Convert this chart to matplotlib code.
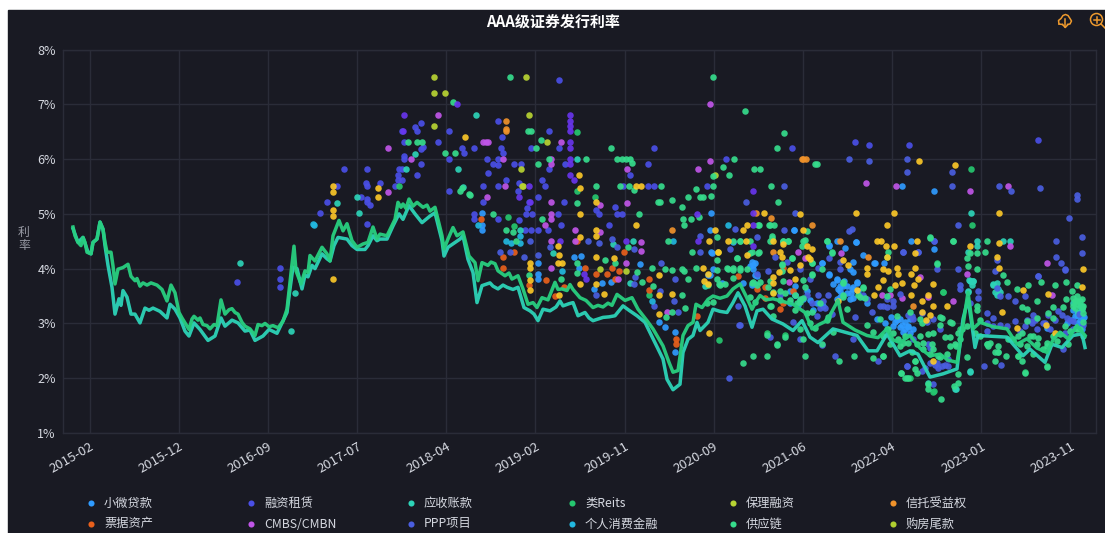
import matplotlib
matplotlib.use("Agg")
import matplotlib.pyplot as plt
from matplotlib.lines import Line2D
from matplotlib.patches import Circle, Rectangle

plt.rcParams['font.family'] = ['Noto Sans CJK SC', 'DejaVu Sans']

W, H = 1105, 533
BG = '#191a23'
GRID = '#2a2c38'

tick_labels = ['2015-02', '2015-12', '2016-09', '2017-07', '2018-04', '2019-02',
               '2019-11', '2020-09', '2021-06', '2022-04', '2023-01', '2023-11']
tick_step = 89.15
tick_first = 16.7

# curves (observation index, rate in %)
green_line = [(0,4.76),(2,4.60),(5,4.48),(8,4.42),(10,4.57),(12,4.48),(14,4.30),(18,4.27),(20,4.48),(24,4.54),
    (27,4.85),(30,4.72),(32,4.48),(34,4.30),(38,4.30),(40,4.05),(42,3.72),(45,3.99),(50,4.02),(55,4.08),(58,3.86),
    (62,3.78),(64,3.82),(67,3.68),(70,3.74),(74,3.70),(78,3.74),(84,3.70),(89,3.62),(94,3.41),(98,3.70),(102,3.56),
    (106,3.20),(109,3.10),(112,3.01),(116,2.89),(119,3.08),(121,3.13),(125,3.06),(127,3.10),(130,2.98),(134,2.96),
    (137,2.90),(141,2.98),(144,2.96),(148,3.43),(150,3.30),(152,3.17),(156,3.25),(159,3.27),(162,3.20),(165,3.17),
    (169,3.02),(172,2.95),(177,2.90),(182,2.78),(185,2.98),(189,2.96),(192,3.00),(196,2.94),(200,2.96),(205,2.92),
    (210,3.04),(214,3.26),(217,3.75),(221,4.41),(223,3.96),(228,3.72),(232,3.96),(235,3.93),(237,4.24),(242,4.14),
    (249,4.39),(254,4.27),(257,4.14),(260,4.60),(266,4.88),(270,4.69),(274,4.82),(279,4.51),(284,4.39),(290,4.45),
    (295,4.48),(300,4.76),(304,4.54),(307,4.63),(314,4.60),(322,4.90),(325,5.21),(328,5.12),(330,5.18),(333,5.10),
    (336,5.27),(340,5.14),(344,5.21),(350,5.12),(354,5.16),(357,5.05),(362,5.12),(369,4.60),(371,4.36),(375,4.54),
    (380,4.75),(384,4.60),(390,4.67),(396,4.23),(402,4.11),(405,3.78),(409,4.11),(415,4.06),(418,4.12),(422,4.09),
    (425,3.96),(432,3.87),(436,3.92),(439,3.81),(445,3.87),(450,3.63),(455,3.35),(460,3.38),(464,3.29),(469,3.47),
    (475,3.43),(482,3.75),(485,3.62),(489,3.63),(494,3.60),(497,3.71),(500,3.62),(507,3.47),(513,3.42),(520,3.29),
    (525,3.33),(530,3.30),(535,3.37),(539,3.33),(544,3.53),(552,3.42),(559,3.47),(565,3.26),(574,3.05),(580,2.90),
    (590,2.59),(596,2.29),(600,2.11),(605,2.14),(610,2.78),(615,2.96),(620,3.02),(623,3.35),(629,3.29),(635,3.44),
    (640,3.50),(647,3.46),(654,3.50),(660,3.63),(667,3.72),(673,3.50),(679,3.26),(683,3.40),(687,3.51),(693,3.43),
    (700,3.45),(710,3.40),(720,3.35),(732,3.20),(739,2.90),(746,2.98),(754,3.05),(760,3.25),(765,3.42),(770,3.02),
    (782,2.88),(794,2.78),(805,2.74),(814,2.90),(820,2.70),(827,2.65),(837,2.78),(847,2.55),(857,2.41),(867,2.44),
    (875,2.33),(884,2.29),(889,2.84),(895,3.57),(900,2.90),(907,3.02),(920,2.94),(934,2.90),(944,2.62),(954,2.72),
    (964,2.55),(974,2.47),(980,2.70),(987,2.84),(995,2.72),(1004,2.96),(1012,2.78)]
teal_line = [(0,4.73),(5,4.48),(10,4.57),(15,4.30),(18,4.27),(20,4.48),(24,4.54),(27,4.85),(30,4.72),(32,4.42),
    (35,4.06),(39,3.66),(42,3.17),(46,3.45),(48,3.33),(50,3.60),(54,3.48),(58,3.17),(62,3.17),(67,3.01),(72,3.28),
    (76,3.24),(80,3.28),(87,3.22),(94,3.10),(97,3.35),(102,3.26),(107,3.10),(112,2.86),(116,2.77),(121,3.01),
    (127,2.89),(135,2.69),(142,2.77),(148,3.10),(152,2.95),(159,3.06),(165,3.01),(172,2.86),(177,2.88),(182,2.69),
    (190,2.77),(196,2.89),(204,2.82),(209,3.01),(214,3.20),(217,3.63),(220,4.03),(224,4.00),(229,3.63),(232,3.88),
    (235,3.85),(239,4.06),(242,4.00),(249,4.27),(254,4.18),(257,4.14),(261,4.42),(265,4.57),(274,4.54),(279,4.42),
    (284,4.35),(292,4.35),(295,4.42),(300,4.60),(304,4.51),(307,4.54),(314,4.54),(320,4.78),(326,5.00),(330,4.90),
    (336,5.15),(342,5.00),(349,4.84),(357,4.96),(362,5.02),(369,4.51),(371,4.23),(375,4.39),(387,4.54),(390,4.60),
    (395,4.17),(400,3.93),(404,3.38),(409,3.69),(417,3.74),(420,3.68),(425,3.63),(430,3.70),(434,3.66),(440,3.62),
    (445,3.66),(451,3.29),(457,3.23),(461,3.17),(465,3.05),(470,3.26),(477,3.23),(483,3.30),(487,3.41),(490,3.32),
    (496,3.36),(500,3.38),(505,3.14),(512,3.20),(516,3.10),(520,3.05),(530,3.11),(536,3.12),(542,3.14),(550,3.32),
    (556,3.24),(564,3.14),(572,3.02),(582,2.65),(590,2.35),(594,1.98),(600,1.79),(607,1.89),(610,2.47),(615,2.71),
    (620,2.78),(624,3.02),(627,2.87),(635,3.02),(640,3.26),(647,3.22),(654,3.20),(660,3.38),(665,3.56),(672,3.32),
    (679,2.93),(684,3.23),(690,3.26),(699,3.08),(710,2.99),(720,2.87),(729,3.05),(737,2.75),(745,2.65),(760,2.90),
    (772,2.84),(784,2.78),(795,2.50),(804,2.50),(814,2.81),(827,2.41),(837,2.50),(845,2.44),(857,2.02),(870,2.08),
    (884,2.17),(890,3.08),(895,3.45),(899,2.96),(902,2.56),(905,2.78),(934,2.75),(950,2.41),(957,2.53),(972,2.29),
    (979,2.62),(989,2.56),(1000,2.78),(1009,2.81),(1012,2.56)]

# issues per product (observation index, rate in %)
xiaowei = [(409,5.01),(409,4.80),(409,4.71),(465,4.10),(465,3.90),(465,3.81),(506,4.02),(508,4.23),(501,4.22),(521,3.63),
    (529,3.74),(538,3.76),(638,4.31),(638,5.01),(640,4.00),(637,3.88),(660,4.48),(567,4.08),(592,2.93),(586,3.02),
    (602,2.47),(602,2.84),(829,5.50),(861,5.41),(861,4.36),(721,4.71),(838,4.51),(783,4.49),(801,4.11),(811,4.11),
    (756,4.41),(772,4.38),(764,4.51),(749,4.11),(756,3.90),(790,4.24),(679,4.12),(682,4.10),(680,3.99),(684,3.87),
    (682,3.72),(717,3.60),(722,3.51),(730,3.45),(734,3.60),(722,3.69),(764,3.81),(767,3.69),(774,3.69),(767,3.60),
    (780,3.66),(784,3.75),(769,3.51),(764,3.45),(777,3.45),(780,4.12),(777,3.99),(780,3.93),(827,3.08),(832,3.02),
    (827,2.93),(835,2.93),(840,2.90),(822,3.02),(804,3.08),(830,2.84),(837,3.08),(824,3.07),(829,2.98),(832,2.89),
    (837,2.83),(835,2.95),(820,2.95),(974,2.92),(1004,3.01),(1009,2.89),(1007,3.07),(771,3.78),(778,3.55),(785,3.60),
    (760,3.72),(812,3.01),(818,3.12),(1002,3.14),(1011,3.12),(1000,3.25),(637,4.71),(721,4.71),(783,4.48),(802,4.10),
    (756,4.44),(749,4.10),(756,3.89),(764,3.80),(770,3.68),(765,3.62),(774,3.55),(779,3.62),(784,3.74),(767,3.49),
    (780,3.46),(790,3.49),(794,3.37),(680,4.07),(677,4.04),(682,3.89),(639,4.29),(635,3.89),(649,3.74),(670,3.74),
    (679,3.71),(722,3.52),(727,3.43),(737,3.43),(725,3.34),(740,3.25),(750,3.31),(744,3.37),(717,3.37),(994,3.01),
    (999,3.07),(1004,3.16),(1010,3.10),(1009,2.95)]
zulin = [(271,5.82),(294,5.82),(293,5.56),(294,5.51),(307,5.56),(264,5.51),(288,5.30),(294,5.28),(294,5.21),(297,5.16),
    (254,5.21),(247,5.01),(376,5.41),(294,4.81),(348,6.66),(342,6.58),(344,6.52),(376,6.52),(329,6.52),(331,6.31),
    (365,6.31),(350,6.22),(348,6.18),(389,6.20),(391,6.11),(331,6.06),(331,6.00),(376,6.00),(348,5.91),(326,5.82),
    (329,5.82),(325,5.71),(344,5.71),(329,5.61),(325,5.61),(322,5.51),(164,3.75),(207,4.01),(207,3.81),(207,3.66),
    (425,6.70),(476,6.51),(429,6.40),(401,6.20),(458,6.20),(486,6.20),(428,6.20),(430,6.11),(414,6.00),(425,6.00),
    (420,5.91),(425,5.89),(441,5.91),(448,5.91),(492,5.91),(476,5.81),(415,5.75),(575,5.91),(581,6.20),(653,6.00),
    (557,5.71),(433,5.61),(446,5.57),(469,5.61),(410,5.50),(425,5.50),(472,5.50),(550,5.50),(575,5.50),(581,5.50),
    (634,5.50),(445,5.41),(410,5.21),(465,5.30),(491,5.21),(456,5.21),(454,5.10),(453,5.00),(459,5.00),(401,5.00),
    (401,4.91),(425,4.91),(485,5.00),(542,5.12),(523,5.07),(526,4.99),(544,5.00),(549,5.00),(536,4.80),(488,4.80),
    (475,4.71),(452,4.71),(458,4.71),(465,4.71),(446,4.89),(486,7.45),(719,6.20),(782,6.31),(796,6.26),(836,6.26),(965,6.35)]
yingshou = [(167,4.10),(222,3.55),(218,2.87),(284,5.30),(286,5.01),(264,5.20),(342,6.09),(333,5.82),(385,5.82),(403,6.81),
    (504,6.00),(390,5.49),(447,4.71),(540,4.45),(560,4.51),(557,3.74),(480,4.29),(632,3.69),(898,5.01),(898,3.77),
    (900,3.78),(896,3.80),(895,3.58),(904,4.51),(904,4.42),(895,4.30),(1000,3.38),(1007,3.32),(1009,3.26),(1005,3.20),
    (922,3.57),(924,3.51),(927,3.57),(920,3.72),(930,4.51),(937,4.51),(897,2.13),(855,1.92),(882,1.81),(883,1.80),(897,2.11),
    (897,3.77),(900,3.77),(899,3.71),(895,3.59),(924,3.74),(925,3.62),(920,3.71),(1009,3.32),(1005,3.19)]
reits = [(326,5.51),(435,4.95),(441,4.78),(504,5.41),(522,5.30),(504,6.50),(576,3.52),(646,2.70),(898,5.81),(899,4.80),
    (694,2.82),(712,2.78),(842,2.32),(834,2.01),(837,2.01),(860,1.75),(870,3.58),(864,4.11),(887,2.90),(914,2.62),
    (925,2.47),(945,2.41),(952,2.11),(974,2.23),(861,1.76),(870,3.57)]
baoli = [(361,7.50),(361,7.21),(372,7.21),(361,6.61),(453,7.50),(456,6.81),(474,6.31),(448,5.81),(449,5.50),(450,5.50),
    (642,5.71),(645,4.30),(527,3.99),(553,3.96)]
xintuo = [(433,6.70),(433,6.55),(433,6.51),(599,4.71),(729,6.00),(733,6.00),(730,6.00),(698,4.92),(739,4.80),(700,4.31),
    (683,5.01),(795,4.22),(767,4.51),(840,3.31)]
piaoju = [(408,4.91),(430,4.22),(430,4.01),(441,4.31),(473,3.80),(456,3.70),(482,3.50),(491,3.66),(504,4.51),(512,4.01),
    (523,3.90),(534,3.90),(539,4.01),(546,3.96),(542,3.81),(551,4.31),(576,3.81),(576,3.61),(603,2.71),(603,2.62),
    (624,3.14),(665,3.86),(684,3.63),(692,3.66),(692,3.46),(707,3.26),(710,3.38),(720,3.60),(710,4.02)]
cmbs = [(315,6.20),(338,6.00),(315,5.39),(365,6.81),(414,5.30),(432,5.50),(430,6.00),(413,6.31),(410,6.31),(415,6.31),
    (488,6.31),(478,6.00),(478,5.91),(478,5.21),(478,5.00),(478,4.91),(472,4.80),(478,4.51),(478,4.01),(502,4.71),
    (502,4.51),(527,5.16),(527,4.66),(554,5.81),(554,5.19),(568,4.49),(568,4.33),(553,4.10),(545,3.81),(637,7.00),
    (637,5.96),(625,5.81),(594,3.20),(793,5.56),(823,5.50),(897,5.41),(935,5.50),(937,4.41),(974,4.11),(979,3.52),
    (894,3.90),(880,3.41),(855,3.49),(829,3.47),(817,3.52),(809,3.52),(768,4.29),(732,4.20),(725,4.31),(716,3.76),(847,3.85)]
ppp = [(457,4.51),(515,4.51),(526,4.46),(539,4.54),(544,4.39),(451,4.22),(465,4.25),(427,4.31),(437,4.31),(477,4.40),
    (561,4.36),(588,4.10),(602,3.81),(523,3.52),(581,3.32),(601,3.41),(587,3.60),(605,3.20),(656,2.00),(627,4.31),
    (627,4.60),(657,4.36),(662,4.72),(665,3.32),(666,2.97),(561,3.72),(562,3.84),(776,6.00),(796,5.97),(834,6.00),
    (834,5.76),(879,5.76),(879,5.50),(711,5.50),(673,5.21),(926,5.50),(938,5.41),(967,5.47),(1004,5.34),(1004,5.27),
    (996,4.92),(1009,4.57),(1009,4.29),(983,4.51),(983,4.22),(988,4.11),(992,3.99),(965,3.87),(885,4.80),(861,4.51),
    (845,4.31),(830,4.31),(779,4.72),(776,4.68),(722,5.01),(711,4.71),(734,3.51),(739,3.38),(745,3.51),(752,3.29),
    (755,3.51),(744,3.14),(750,3.41),(759,3.17),(747,3.29),(767,3.99),(767,4.12),(756,4.19),(745,4.02),(702,4.21),
    (695,3.96),(684,3.90),(684,4.57),(710,4.48),(714,4.12),(727,3.99),(737,3.81),(707,3.51),(720,3.02),(667,2.97),
    (697,2.75),(727,2.72),(749,2.61),(762,2.41),(780,2.72),(805,2.31),(834,2.23),(840,2.72),(790,3.51),(794,3.45),
    (807,3.32),(814,3.45),(820,3.31),(799,3.20),(782,3.11),(854,3.02),(860,3.08),(867,2.90),(840,3.08),(885,4.00),
    (864,4.00),(830,4.30),(845,4.30),(861,4.50),(887,3.71),(887,3.63),(905,3.59),(905,3.47),(897,3.38),(924,3.65),
    (922,3.95),(924,4.16),(927,3.50),(935,3.50),(942,3.41),(952,3.50),(920,3.10),(914,3.19),(914,2.86),(942,3.04),
    (960,3.16),(989,3.16),(994,3.10),(997,3.07),(982,3.07),(970,3.01),(965,3.86),(992,3.98),(857,2.56),(862,2.25),
    (869,2.22),(875,2.22),(834,2.22),(849,2.13),(860,1.89),(911,2.22),(928,2.25),(990,2.53),(875,2.35),(1000,3.04),
    (1006,3.18),(1010,2.98),(958,3.04),(952,2.95),(975,3.16),(985,3.22),(810,3.31),(814,3.30),(820,3.41),(827,3.53),
    (835,3.16),(839,3.13),(849,3.19),(855,2.62),(864,2.28),(865,2.19),(872,2.25),(857,2.28),(852,2.19),(1000,2.89),
    (992,2.83),(959,3.01),(962,3.07),(954,3.07),(964,2.89),(972,3.01),(977,2.89),(934,2.95),(927,2.98),(920,2.95),
    (947,2.86),(914,3.01)]
xiaofei = [(240,4.81),(241,4.80),(405,4.80),(433,4.51),(438,4.46),(447,4.60),(447,4.47),(489,3.95),(600,4.51),(655,4.80),(579,3.41)]
gongying = [(380,7.04),(335,6.31),(344,6.31),(349,6.31),(372,6.11),(382,6.11),(387,5.41),(389,5.48),(396,5.36),(437,7.50),
    (640,7.50),(468,6.34),(463,6.20),(458,6.51),(455,6.51),(538,6.20),(513,6.00),(544,6.00),(549,6.00),(553,6.00),
    (557,6.00),(559,5.92),(465,5.91),(476,6.00),(650,5.85),(661,6.00),(656,5.71),(640,5.69),(640,5.50),(623,5.46),
    (523,5.50),(547,5.50),(556,5.50),(561,5.43),(588,5.50),(397,5.35),(599,5.26),(585,5.21),(587,5.21),(615,5.30),
    (627,5.30),(630,5.30),(638,5.32),(609,5.12),(610,4.91),(618,4.91),(626,4.95),(611,4.80),(420,5.00),(566,5.00),
    (504,5.19),(469,4.90),(433,4.71),(440,4.66),(443,4.51),(595,4.51),(619,4.31),(644,4.57),(644,4.16),(664,4.19),
    (579,4.01),(592,4.00),(599,3.98),(609,4.00),(611,3.95),(623,4.01),(654,4.01),(660,4.01),(504,4.11),(504,3.92),
    (532,4.16),(542,4.10),(555,4.39),(564,3.93),(488,3.81),(456,3.89),(569,3.76),(609,3.52),(615,3.81),(644,3.81),
    (652,3.72),(646,3.72),(580,3.69),(599,3.20),(593,3.11),(612,3.29),(672,6.88),(711,6.48),(704,6.20),(681,5.82),
    (687,5.82),(698,5.50),(705,5.21),(742,5.91),(744,5.91),(857,4.56),(880,4.50),(914,4.50),(912,4.30),(904,4.28),
    (894,4.19),(897,4.28),(895,4.04),(904,4.00),(864,4.09),(930,3.89),(934,3.75),(944,3.63),(955,3.71),(968,3.75),
    (982,3.71),(993,3.75),(1004,3.71),(999,3.59),(1004,3.50),(1007,3.41),(1002,3.41),(1010,3.32),(1005,3.35),(993,3.44),
    (980,3.30),(990,3.30),(964,3.41),(954,3.27),(949,3.30),(954,3.04),(964,3.10),(975,3.19),(980,3.10),(869,3.10),
    (879,3.01),(867,2.98),(860,2.83),(872,2.76),(877,2.76),(855,2.80),(849,3.01),(847,2.77),(885,2.83),(882,2.62),
    (877,2.59),(859,2.62),(860,2.53),(867,2.38),(850,2.53),(839,2.47),(825,2.71),(832,2.77),(814,2.89),(810,2.41),
    (842,2.32),(842,2.16),(844,2.09),(828,2.09),(832,2.00),(835,2.00),(855,1.90),(855,1.81),(868,1.62),(885,1.91),
    (881,1.86),(885,2.07),(894,2.39),(904,3.32),(904,3.25),(907,3.07),(922,2.47),(925,2.47),(933,2.41),(922,2.32),
    (914,2.62),(915,2.59),(945,2.41),(949,2.32),(974,2.21),(952,2.09),(954,2.59),(960,2.77),(965,2.74),(974,2.65),
    (980,2.77),(984,2.68),(995,2.62),(997,2.86),(1004,2.89),(945,2.77),(947,2.62),(667,4.51),(677,4.51),(679,4.31),
    (686,4.31),(686,4.80),(696,4.80),(701,4.80),(734,4.69),(699,4.60),(697,4.51),(710,4.51),(715,4.51),(730,4.51),
    (754,4.51),(709,4.08),(719,4.19),(739,4.11),(749,3.99),(739,3.90),(759,4.31),(697,3.78),(680,3.75),(687,3.75),
    (667,4.02),(730,3.79),(710,3.78),(695,3.66),(700,3.57),(707,3.60),(722,3.51),(727,3.45),(724,3.38),(732,3.66),
    (747,3.37),(770,3.76),(770,3.51),(785,3.51),(792,3.47),(790,3.66),(774,3.26),(755,3.11),(739,3.20),(727,2.90),
    (700,3.14),(698,3.31),(730,2.72),(749,2.62),(704,2.62),(680,2.41),(694,2.41),(670,2.27),(732,2.41),(781,2.41),
    (766,2.32),(800,2.36),(810,2.40),(828,2.10),(814,3.50),(817,3.63),(815,4.31),(814,4.21),(857,4.57),(880,4.51),
    (847,3.08),(837,3.20),(807,3.08),(824,3.14),(867,3.11),(877,3.02),(1009,3.45),(1002,3.28),(1010,3.02),(1003,2.92),
    (667,4.50),(660,4.50),(685,4.80),(697,4.80),(710,4.50),(715,4.50),(732,4.53),(729,4.41),(754,4.50),(759,4.29),
    (664,4.20),(660,3.98),(655,4.00),(644,3.98),(667,3.98),(674,4.00),(685,4.29),(677,4.29),(699,4.56),(709,4.07),
    (709,3.95),(739,4.10),(739,3.89),(719,4.20),(660,3.83),(679,3.74),(684,3.71),(647,3.71),(635,3.71),(640,3.40),
    (634,3.37),(677,3.49),(682,3.40),(697,3.31),(707,3.43),(712,3.55),(717,3.43),(727,3.40),(730,3.46),(722,3.25),
    (734,3.19),(737,3.01),(742,2.91),(754,3.07),(760,2.85),(770,3.74),(770,3.49),(787,3.49),(790,3.65),(794,2.98),
    (800,2.85),(694,2.79),(712,2.76),(704,2.61),(1000,3.32),(1004,3.41),(1000,3.47),(1009,3.28),(1010,3.19),(1007,2.89),
    (1010,2.77),(992,2.95),(987,2.80),(974,2.59),(970,2.53),(964,2.62),(957,2.77),(960,2.44),(949,2.83),(940,2.71),
    (935,2.71),(925,2.59),(917,2.65),(907,2.77),(902,2.83),(894,2.95),(889,2.89),(887,2.71),(883,2.59),(874,2.44),
    (865,2.41),(857,2.44),(850,2.65),(844,2.62),(835,2.65),(830,2.65),(827,2.59),(820,2.83),(815,2.89),(817,2.62),(810,2.77)]
# these two colours appear in the plot; their legend entries are cut off in the picture
yellow = [(392,6.41),(305,5.48),(305,5.30),(260,5.51),(260,5.39),(260,5.07),(260,4.96),(260,3.81),(506,5.71),(507,5.48),
    (507,4.99),(523,5.21),(563,5.50),(568,5.50),(563,4.80),(523,4.71),(523,4.60),(507,4.58),(485,4.42),(486,4.25),
    (485,4.10),(489,4.10),(457,4.10),(457,4.01),(457,3.80),(457,3.61),(486,3.52),(507,3.72),(523,4.22),(523,3.72),
    (531,3.53),(541,4.19),(586,3.88),(586,3.52),(599,3.53),(586,3.17),(636,4.51),(642,4.71),(630,4.01),(645,4.30),
    (635,3.90),(635,3.72),(631,3.78),(636,2.82),(655,4.51),(691,5.01),(670,4.71),(674,4.80),(727,4.99),(730,4.71),
    (814,4.80),(821,5.01),(783,5.01),(846,5.97),(882,5.89),(926,5.01),(926,4.47),(926,4.01),(924,4.22),(897,4.42),
    (844,4.51),(842,4.29),(842,4.01),(804,4.51),(808,4.51),(813,4.42),(821,4.42),(814,4.22),(673,4.51),(700,4.51),
    (710,4.45),(674,4.25),(707,4.30),(709,4.21),(734,4.42),(739,4.36),(735,4.21),(737,4.18),(727,4.07),(717,3.98),
    (706,3.93),(700,3.85),(700,3.74),(700,3.56),(722,3.81),(770,4.16),(775,4.07),(794,4.01),(794,3.90),(810,3.99),
    (815,3.96),(824,4.01),(825,3.90),(810,3.80),(822,3.71),(829,3.73),(838,3.90),(841,3.71),(845,3.81),(860,3.72),
    (849,3.41),(855,3.51),(860,3.31),(805,3.67),(801,3.52),(838,3.52),(784,3.61),(874,3.31),(849,3.20),(857,3.15),
    (853,3.06),(765,3.41),(950,3.61),(975,3.54),(1009,3.67),(1010,3.99),(929,3.20),(944,2.91),(982,2.82),(973,2.97),(860,2.32)]
violet = [(384,7.00),(331,6.81),(330,6.52),(497,6.81),(497,6.70),(497,6.60),(497,6.51),(497,6.31),(497,6.20),(497,6.00),
    (497,5.91),(497,5.71),(501,5.61),(446,5.30),(456,5.50),(457,5.21),(487,4.51),(511,3.90),(513,3.81),(553,4.51),
    (625,4.51),(624,5.00),(680,5.41),(680,5.01),(680,4.80),(680,4.42)]

legend_names = ['小微贷款', '融资租赁', '应收账款', '类Reits', '保理融资', '信托受益权',
                '票据资产', 'CMBS/CMBN', 'PPP项目', '个人消费金融', '供应链', '购房尾款']
gouFang = []
legend_colors = ['#2f9bff', '#4a4fe6', '#2dd4b8', '#25c76f', '#b8d433', '#f0922b',
                 '#e8601c', '#c055e8', '#4a5ee0', '#22b8e0', '#36dc8c', '#b0cf30']
series = [xiaowei, zulin, yingshou, reits, baoli, xintuo, piaoju, cmbs, ppp, xiaofei, gongying, gouFang]

fig = plt.figure(figsize=(W / 100, H / 100), dpi=100, facecolor='white')
fig.add_artist(Rectangle((8 / W, 0), 1 - 8 / W, 1 - 10 / H, transform=fig.transFigure, color=BG, zorder=-5))

ax = fig.add_axes([62.7 / W, 1 - 433 / H, (1095.7 - 62.7) / W, (433 - 49.5) / H])
ax.set_facecolor(BG)
ax.set_xlim(-10.3, 1022.7)
ax.set_ylim(1, 8)

ax.set_xticks([tick_first + tick_step * k for k in range(len(tick_labels))])
ax.set_xticklabels(tick_labels, rotation=30, ha='right', rotation_mode='anchor', color='#d5d8e0', fontsize=9.5)
ax.set_yticks(range(1, 9))
ax.set_yticklabels([f'{v}%' for v in range(1, 9)], color='#d5d8e0', fontsize=9)
ax.tick_params(length=0, pad=5)
ax.grid(True, color=GRID, lw=1)
ax.set_axisbelow(True)
for s in ax.spines.values():
    s.set_color(GRID)
    s.set_linewidth(1)

for pts, c in zip(series, legend_colors):
    if pts:
        ax.scatter([p[0] for p in pts], [p[1] for p in pts], s=22, color=c, alpha=0.92, lw=0, zorder=3)
for pts, c in ((violet, '#6a35f0'), (yellow, '#ffca28')):
    ax.scatter([p[0] for p in pts], [p[1] for p in pts], s=22, color=c, alpha=0.9, lw=0, zorder=3)

ax.plot([p[0] for p in teal_line], [p[1] for p in teal_line], color='#2dd4b8', lw=2.5, alpha=0.95, zorder=4)
ax.plot([p[0] for p in green_line], [p[1] for p in green_line], color='#28cf80', lw=2.5, alpha=0.95, zorder=4)

fig.text(553 / W, 1 - 22 / H, 'AAA级证券发行利率', color='white', fontsize=10.8, fontweight='bold', ha='center', va='center')
fig.text(24 / W, 1 - 232 / H, '利', color='#9a9ca6', fontsize=8.5, ha='center', va='center')
fig.text(24 / W, 1 - 245 / H, '率', color='#9a9ca6', fontsize=8.5, ha='center', va='center')

# legend, two rows of six
col_x = [91, 251, 411, 572, 733, 893]
row_y = [503, 524]
for i, (name, c) in enumerate(zip(legend_names, legend_colors)):
    x, y = col_x[i % 6], row_y[i // 6]
    fig.add_artist(Line2D([x / W], [1 - y / H], marker='o', ms=4.4, color=c, mew=0, transform=fig.transFigure))
    fig.text((x + 13) / W, 1 - y / H, name, color='#d5d8e0', fontsize=8.8, va='center')

# toolbox icons
ICON = '#ee9a2e'
def px_line(xs, ys):
    fig.add_artist(Line2D([v / W for v in xs], [1 - v / H for v in ys], color=ICON, lw=1.1, transform=fig.transFigure))
px_line([1059, 1058.5, 1061, 1063, 1065.5, 1068, 1070, 1071.5, 1070, 1067.5], [24, 20.5, 18.5, 15.5, 14.5, 15.5, 18.5, 21, 24, 24.5])
px_line([1059, 1062.5], [24, 24.5])
px_line([1065.3, 1065.3], [19, 27])
px_line([1062.5, 1065.3, 1068], [24.5, 27.5, 24.5])
fig.add_artist(Circle((1096.5, H - 19.5), 6, transform=None, fill=False, ec=ICON, lw=1.1))
px_line([1101, 1105], [24, 28])
px_line([1093.5, 1099.5], [19.5, 19.5])
px_line([1096.5, 1096.5], [16.5, 22.5])

fig.savefig('out.png', dpi=100, facecolor='white')
